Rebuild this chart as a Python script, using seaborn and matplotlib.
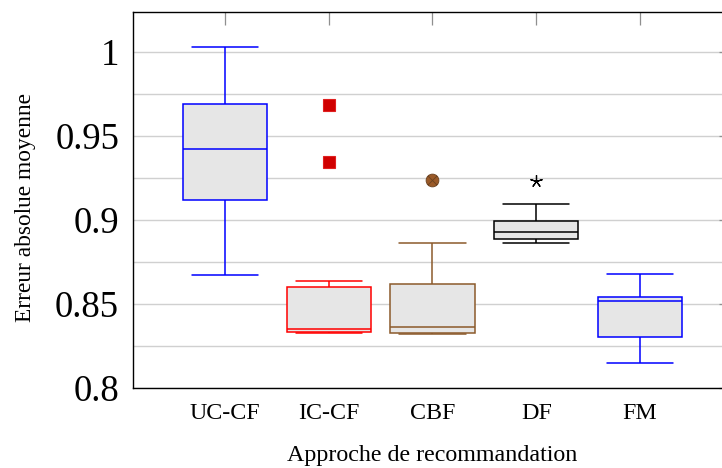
import numpy as np
import pandas as pd
import matplotlib
matplotlib.use("Agg")
import matplotlib.pyplot as plt
import seaborn as sns
from matplotlib.path import Path
from matplotlib.ticker import FixedLocator, FuncFormatter

# ---- data ----
categories = ["UC-CF", "IC-CF", "CBF", "DF", "FM"]
whisker_low = [0.8673, 0.8327, 0.8320, 0.8863, 0.8147]
q1 = [0.9119, 0.8333, 0.8327, 0.8889, 0.8305]
median = [0.9421, 0.8349, 0.8365, 0.8927, 0.8520]
q3 = [0.9689, 0.8603, 0.8617, 0.8996, 0.8544]
whisker_high = [1.0032, 0.8637, 0.8863, 0.9095, 0.8679]
outliers = [[], [0.9347, 0.9683], [0.9238], [0.9232], []]
y_major = [0.8, 0.85, 0.9, 0.95, 1.0]
y_minor = [0.825, 0.875, 0.925, 0.975]
x_title = "Approche de recommandation"
y_title = "Erreur absolue moyenne"

# Samples whose quartiles / whiskers / outliers reproduce the read values
rows = []
for i, c in enumerate(categories):
    k = len(outliers[i])
    m = k + 1
    vals = ([whisker_low[i]] + [q1[i]] * m + [median[i]] * m + [q3[i]] * m
            + [whisker_high[i]] + sorted(outliers[i]))
    rows += [(c, v) for v in vals]
df = pd.DataFrame(rows, columns=["cat", "val"])

# ---- styling ----
sns.set_style("white")
plt.rcParams["font.family"] = ["Liberation Serif", "DejaVu Serif"]
plt.rcParams["text.color"] = "black"
plt.rcParams["axes.labelcolor"] = "black"
plt.rcParams["xtick.labelcolor"] = "black"
plt.rcParams["ytick.labelcolor"] = "black"

edge_colors = ["#0000ff", "#ff0000", "#8b5a2b", "#000000", "#0000ff"]
fill_color = "#e6e6e6"

otimes = Path.make_compound_path(
    Path.unit_circle(),
    Path([[-0.7, -0.7], [0.7, 0.7]], [Path.MOVETO, Path.LINETO]),
    Path([[-0.7, 0.7], [0.7, -0.7]], [Path.MOVETO, Path.LINETO]),
)
flier_styles = [
    dict(marker="o", markersize=0),
    dict(marker="s", markerfacecolor="#d00000", markeredgecolor="#e02020",
         markersize=8.6, markeredgewidth=0.8),
    dict(marker=otimes, markerfacecolor="#9a5a28", markeredgecolor="#6b4220",
         markersize=9.2, markeredgewidth=0.6),
    dict(marker=(5, 2, 0), markerfacecolor="black", markeredgecolor="black",
         markersize=9.0, markeredgewidth=0.9),
    dict(marker="o", markersize=0),
]

W, H = 722, 468
fig = plt.figure(figsize=(W / 100, H / 100), dpi=100)
ax = fig.add_axes([133 / W, 80 / H, (732 - 133) / W, (388 - 12) / H])

for i, c in enumerate(categories):
    sub = df[df["cat"] == c]
    sns.boxplot(
        data=sub, x="cat", y="val", order=categories, ax=ax,
        width=0.81, color=fill_color, saturation=1,
        linecolor=edge_colors[i], linewidth=1.1, capwidths=0.64,
        fliersize=flier_styles[i]["markersize"],
        flierprops=flier_styles[i],
    )

ax.set_xlim(-0.887, 4.887)
ax.set_ylim(0.8, 1.0238)

ax.yaxis.set_major_locator(FixedLocator(y_major))
ax.yaxis.set_minor_locator(FixedLocator(y_minor))
ax.yaxis.set_major_formatter(FuncFormatter(lambda v, p: f"{v:g}"))
ax.set_xticks(range(len(categories)))
ax.set_xticklabels(categories)

ax.set_axisbelow(True)
ax.yaxis.grid(True, which="both", color="#d0d0d0", linewidth=1.0)
ax.xaxis.grid(False)

ax.tick_params(axis="both", which="both", direction="in", color="#8f8f8f",
               top=True, right=True, width=0.9)
ax.tick_params(axis="both", which="major", length=9.4)
ax.tick_params(axis="y", which="minor", length=6.3)
ax.tick_params(axis="y", which="major", labelsize=26.5, pad=10,
               labelcolor="black")
ax.tick_params(axis="x", which="major", labelsize=17.3, pad=11,
               labelcolor="black")
ax.tick_params(axis="x", which="minor", length=0)

for s in ax.spines.values():
    s.set_visible(True)
    s.set_color("black")
    s.set_linewidth(1.0)

ax.set_xlabel(x_title, fontsize=17.3, labelpad=15, color="black")
ax.set_ylabel(y_title, fontsize=16.8, color="black")
ax.yaxis.set_label_coords(-0.162, 0.481)

fig.savefig("out.png", dpi=100)
